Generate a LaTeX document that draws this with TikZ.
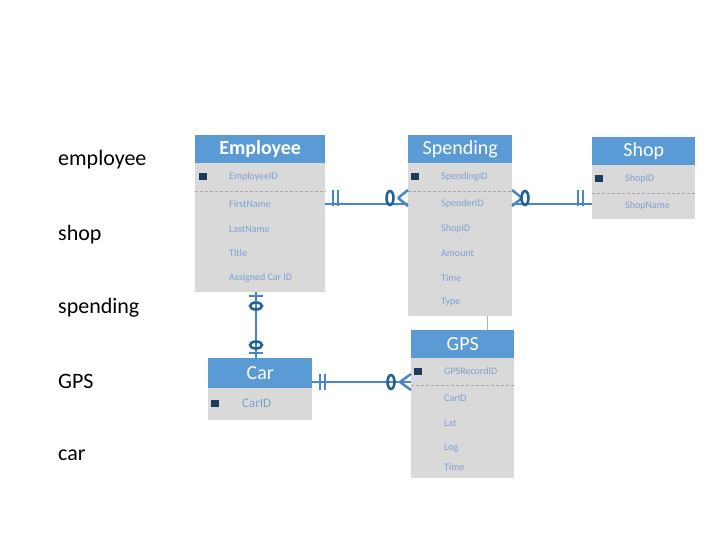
\documentclass[tikz,border=0pt]{standalone}
\usepackage{fontspec}
\setmainfont{Carlito}
\definecolor{hdrblue}{HTML}{5B9BD5}
\definecolor{bodygray}{HTML}{D9D9D9}
\definecolor{rowtext}{HTML}{7F9FCF}
\definecolor{relblue}{HTML}{4A86C5}
\definecolor{ringblue}{HTML}{1F5FA0}
\definecolor{pkdark}{HTML}{1F3A5F}
\tikzset{
  hdr/.style={fill=hdrblue,text=white,anchor=north west,inner sep=0pt,font=\fontsize{20}{20}\selectfont},
  tbody/.style={fill=bodygray,anchor=north west,inner sep=0pt},
  row/.style={anchor=west,text=rowtext,inner sep=0pt,font=\fontsize{10}{10}\selectfont},
  pk/.style={fill=pkdark,minimum width=8pt,minimum height=7pt,inner sep=0pt},
  lbl/.style={anchor=west,inner sep=0pt,font=\fontsize{22}{22}\selectfont},
  rel/.style={draw=relblue,line width=2.5pt},
  bar/.style={draw=relblue,line width=2.5pt},
  ring/.style={draw=ringblue,line width=2.5pt}
}
\begin{document}
\begin{tikzpicture}[x=1pt,y=-1pt]
\useasboundingbox (0,0) rectangle (720,540);
% left labels
\node[lbl] (l1) at (58,160) {employee};
\node[lbl] (l2) at (58,235) {shop};
\node[lbl] (l3) at (58,308) {spending};
\node[lbl] (l4) at (58,381) {GPS};
\node[lbl] (l5) at (58,455) {car};

% Employee
\node[tbody,minimum width=130pt,minimum height=129pt] (empb) at (195,163) {};
\node[hdr,minimum width=130pt,minimum height=28pt,font=\bfseries\fontsize{20}{20}\selectfont] (emp) at (195,135) {Employee};
\node[pk] (emppk) at (203,177) {};
\node[row] (empid) at (229,177) {EmployeeID};
\draw[gray!70,densely dashed,thin] (empb.west |- 0,191) -- (empb.east |- 0,191);
\node[row] (fname) at (229,204) {FirstName};
\node[row] (lname) at (229,229) {LastName};
\node[row] (title) at (229,253) {Title};
\node[row] (carid) at (229,278) {Assigned Car ID};

% Spending
\node[tbody,minimum width=104pt,minimum height=153pt] (spdb) at (408,163) {};
\node[hdr,minimum width=104pt,minimum height=28pt] (spd) at (408,135) {Spending};
\node[pk] (spdpk) at (415,177) {};
\node[row] (spdid) at (441,177) {SpendingID};
\draw[gray!70,densely dashed,thin] (spdb.west |- 0,191) -- (spdb.east |- 0,191);
\node[row] (spdr) at (441,204) {SpenderID};
\node[row] (shid) at (441,229) {ShopID};
\node[row] (amt) at (441,253) {Amount};
\node[row] (stime) at (441,278) {Time};
\node[row] (stype) at (441,302) {Type};

% Shop
\node[tbody,minimum width=103pt,minimum height=54pt] (shpb) at (592,165) {};
\node[hdr,minimum width=103pt,minimum height=28pt] (shp) at (592,137) {Shop};
\node[pk] (shppk) at (599,179) {};
\node[row] (shpid) at (625,179) {ShopID};
\draw[gray!70,densely dashed,thin] (shpb.west |- 0,193) -- (shpb.east |- 0,193);
\node[row] (shpnm) at (625,206) {ShopName};

% GPS
\node[tbody,minimum width=103pt,minimum height=120pt] (gpsb) at (411,358) {};
\node[hdr,minimum width=103pt,minimum height=28pt] (gps) at (411,330) {GPS};
\node[pk] (gpspk) at (418,371) {};
\node[row] (gpsid) at (444,371) {GPSRecordID};
\draw[gray!70,densely dashed,thin] (gpsb.west |- 0,385) -- (gpsb.east |- 0,385);
\node[row] (gcar) at (444,398) {CarID};
\node[row] (glat) at (444,423) {Lat};
\node[row] (glog) at (444,448) {Log};
\node[row] (gtime) at (444,467) {Time};
\draw[gray!60,thin] (spdb.south -| 487,0) -- (gps.north -| 487,0);

% Car
\node[tbody,minimum width=104pt,minimum height=32pt] (carb) at (208,388) {};
\node[hdr,minimum width=104pt,minimum height=30pt] (car) at (208,358) {Car};
\node[pk] (carpk) at (215,403) {};
\node[row,font=\fontsize{13}{13}\selectfont] (cid) at (242,403) {CarID};

% Employee -- Spending
\path[rel] (empb.east |- spdr) -- (spdb.west |- spdr);
\path[bar] (333,190) -- (333,206);
\path[bar] (338,190) -- (338,206);
\path[ring] (390,198) ellipse (3.5pt and 7pt);
\path[rel] (398,198) -- (408,190) (398,198) -- (408,206);

% Spending -- Shop
\path[rel] (spdb.east |- spdr) -- (shpb.west |- spdr);
\path[rel] (522,198) -- (512,190) (522,198) -- (512,206);
\path[ring] (525,198) ellipse (3.5pt and 7pt);
\path[bar] (578,190) -- (578,206);
\path[bar] (583,190) -- (583,206);

% Employee -- Car
\path[rel] (empb.south -| 256,0) -- (car.north -| 256,0);
\path[bar] (249,296) -- (263,296);
\path[ring] (256,306) ellipse (6pt and 3.5pt);
\path[ring] (256,345) ellipse (6pt and 3.5pt);
\path[bar] (249,353) -- (263,353);

% Car -- GPS
\path[rel] (carb.east |- 0,382) -- (gpsb.west |- 0,382);
\path[bar] (320,374) -- (320,390);
\path[bar] (325,374) -- (325,390);
\path[ring] (391,382) ellipse (3.5pt and 7pt);
\path[rel] (400,382) -- (411,374) (400,382) -- (411,390);
\end{tikzpicture}
\end{document}
